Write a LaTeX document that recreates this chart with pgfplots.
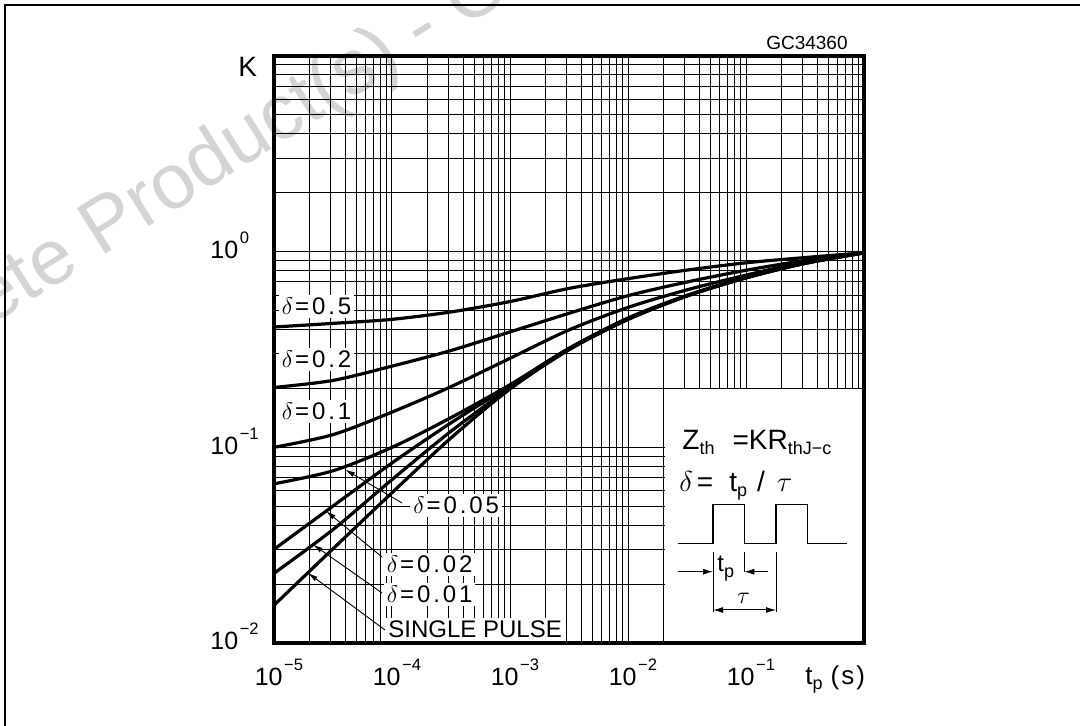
\documentclass[border=0pt]{standalone}
\usepackage{pgfplots}
\pgfplotsset{compat=1.18}
\usetikzlibrary{arrows.meta}
\usepackage{fontspec}
\setmainfont{Liberation Sans}

% 10 with a raised exponent, as the datasheet sets it
\newcommand\tlab[1]{10\kern0.8pt\raisebox{7.5pt}{\fontsize{8.3}{9}\selectfont #1}}
\newcommand\sub[1]{\raisebox{-2.5pt}{\fontsize{9}{10}\selectfont #1}}
\newcommand\dl[1]{\fontsize{12}{14}\selectfont$\delta$\kern1pt{\addfontfeature{LetterSpace=12}=#1}}

\begin{document}
\begin{tikzpicture}
\path[use as bounding box] (0,0) rectangle (540pt,363pt);

% watermark
\node[rotate=32.2, anchor=base west, text=black!17, inner sep=0pt,
  font=\fontsize{39}{40}\selectfont] at (-91.35pt,145.15pt)
  {Obsolete Product(s) - Obsolete Product(s)};

% outer frame (only top and left are inside the crop)
\draw[line width=0.8pt] (2.5pt,0pt) -- (2.5pt,360.5pt) -- (545pt,360.5pt);

\begin{axis}[
  at={(137pt,41.5pt)}, anchor=south west,
  scale only axis, width=295pt, height=293.5pt,
  xmode=log, ymode=log,
  xmin=1e-5, xmax=1, ymin=1e-2, ymax=10,
  xtick={1e-5,1e-4,1e-3,1e-2,1e-1},
  xticklabels={\tlab{−5},\tlab{−4},\tlab{−3},\tlab{−2},\tlab{−1}},
  ytick={1e-2,1e-1,1},
  yticklabels={\tlab{−2},\tlab{−1},\tlab{0}},
  minor xtick={2e-5,3e-5,4e-5,5e-5,6e-5,7e-5,8e-5,9e-5,
               2e-4,3e-4,4e-4,5e-4,6e-4,7e-4,8e-4,9e-4,
               2e-3,3e-3,4e-3,5e-3,6e-3,7e-3,8e-3,9e-3,
               2e-2,3e-2,4e-2,5e-2,6e-2,7e-2,8e-2,9e-2,
               0.2,0.3,0.4,0.5,0.6,0.7,0.8,0.9},
  minor ytick={0.02,0.03,0.04,0.05,0.06,0.07,0.08,0.09,
               0.2,0.3,0.4,0.5,0.6,0.7,0.8,0.9,
               2,3,4,5,6,7,8,9},
  grid=both,
  major grid style={black, line width=0.5pt},
  minor grid style={black, line width=0.5pt},
  tick style={draw=none},
  axis line style={line width=1.7pt},
  ticklabel style={font=\fontsize{12.5}{14}\selectfont, inner sep=0pt},
  xticklabel style={anchor=base, yshift=-21pt, xshift=2.5pt},
  yticklabel style={anchor=base west, xshift=-32pt, yshift=-3.5pt},
]
% delta = 0.5
\addplot[black, line width=1.6pt, smooth] coordinates {
  (1e-5,0.412) (3.162e-5,0.430) (1e-4,0.451) (3.162e-4,0.492) (1e-3,0.556)
  (3.162e-3,0.649) (1e-2,0.728) (3.162e-2,0.805) (1e-1,0.877) (3.162e-1,0.933) (1,0.986)};
% delta = 0.2
\addplot[black, line width=1.6pt, smooth] coordinates {
  (1e-5,0.2023) (3.162e-5,0.2198) (1e-4,0.260) (3.162e-4,0.3126) (1e-3,0.389)
  (3.162e-3,0.4842) (1e-2,0.5957) (3.162e-2,0.6998) (1e-1,0.8035) (3.162e-1,0.9016) (1,0.986)};
% delta = 0.1
\addplot[black, line width=1.6pt, smooth] coordinates {
  (1e-5,0.100) (3.162e-5,0.1161) (1e-4,0.1514) (3.162e-4,0.2042) (1e-3,0.2851)
  (3.162e-3,0.3981) (1e-2,0.5188) (3.162e-2,0.6383) (1e-1,0.7586) (3.162e-1,0.887) (1,0.986)};
% delta = 0.05
\addplot[black, line width=1.6pt, smooth] coordinates {
  (1e-5,0.0651) (3.162e-5,0.0759) (1e-4,0.100) (3.162e-4,0.1419) (1e-3,0.2089)
  (3.162e-3,0.3206) (1e-2,0.4581) (3.162e-2,0.5984) (1e-1,0.7396) (3.162e-1,0.875) (1,0.986)};
% delta = 0.02
\addplot[black, line width=1.6pt, smooth] coordinates {
  (1e-5,0.0301) (3.162e-5,0.0501) (1e-4,0.0832) (3.162e-4,0.1334) (1e-3,0.2065)
  (3.162e-3,0.320) (1e-2,0.454) (3.162e-2,0.596) (1e-1,0.736) (3.162e-1,0.873) (1,0.986)};
% delta = 0.01
\addplot[black, line width=1.6pt, smooth] coordinates {
  (1e-5,0.0227) (3.162e-5,0.0380) (1e-4,0.0684) (3.162e-4,0.1208) (1e-3,0.201)
  (3.162e-3,0.317) (1e-2,0.452) (3.162e-2,0.594) (1e-1,0.735) (3.162e-1,0.871) (1,0.986)};
% single pulse
\addplot[black, line width=1.6pt, smooth] coordinates {
  (1e-5,0.0156) (3.162e-5,0.0303) (1e-4,0.0586) (3.162e-4,0.1117) (1e-3,0.1986)
  (3.162e-3,0.315) (1e-2,0.450) (3.162e-2,0.593) (1e-1,0.735) (3.162e-1,0.871) (1,0.986)};
\end{axis}

% annotations, in pixel units of the 1080x726 picture
\begin{scope}[x=0.5pt, y=-0.5pt, shift={(0pt,363pt)}]
  % inset panel
  \fill[white] (664.5,389.5) rectangle (862,641);
  \draw[line width=0.6pt] (678.3,543.3) -- (713,543.3) -- (713,504.3) -- (744.3,504.3)
    -- (744.3,543.3) -- (776,543.3) -- (776,504.3) -- (807.3,504.3) -- (807.3,543.3) -- (847.3,543.3);
  \draw[line width=0.5pt] (713,551.7) -- (713,611.7) (744.3,551.7) -- (744.3,571.7) (776,551.7) -- (776,611.7);
  \draw[line width=0.5pt, -{Latex[length=5pt,width=3pt]}] (678.3,571.7) -- (713,571.7);
  \draw[line width=0.5pt, -{Latex[length=5pt,width=3pt]}] (768,571.7) -- (744.3,571.7);
  \draw[line width=0.5pt, {Latex[length=5pt,width=3pt]}-{Latex[length=5pt,width=3pt]}] (713,610) -- (776,610);
  \node[anchor=base west, inner sep=0pt, font=\fontsize{12}{14}\selectfont] at (717,571.7) {t\raisebox{-3pt}{\fontsize{9}{10}\selectfont p}};
  \node[font=\fontsize{12}{14}\selectfont] at (743.5,598) {$\tau$};
  \node[anchor=base west, inner sep=0pt, font=\fontsize{14}{16}\selectfont] at (682,450)
    {Z\sub{th}\hspace{9pt}=KR\sub{thJ−c}};
  \node[anchor=base west, inner sep=0pt, font=\fontsize{14}{16}\selectfont] at (679,492)
    {$\delta$\hspace{2pt}=\hspace{8pt}t\sub{p}\hspace{5pt}/\hspace{6pt}$\tau$};

  % curve labels
  \node[anchor=base west, fill=white, inner sep=1.5pt] at (278.5,314.5) {\dl{0.5}};
  \node[anchor=base west, fill=white, inner sep=1.5pt] at (278.5,367.7) {\dl{0.2}};
  \node[anchor=base west, fill=white, inner sep=1.5pt] at (278.5,419.3) {\dl{0.1}};
  \node[anchor=base west, fill=white, inner sep=1.5pt] at (410,514) {\dl{0.05}};
  \node[anchor=base west, fill=white, inner sep=1.5pt] at (383.5,572.3) {\dl{0.02}};
  \node[anchor=base west, fill=white, inner sep=1.5pt] at (383.5,602.7) {\dl{0.01}};
  \node[anchor=base west, fill=white, inner sep=1.5pt, font=\fontsize{12}{14}\selectfont] at (385,637.3) {SINGLE PULSE};

  % leaders
  \draw[line width=0.45pt, -{Latex[length=5pt,width=2.6pt]}] (402,503) -- (345,469.5);
  \draw[line width=0.45pt, -{Latex[length=5pt,width=2.6pt]}] (382,557) -- (326,511);
  \draw[line width=0.45pt, -{Latex[length=5pt,width=2.6pt]}] (382,593) -- (313,544.5);
  \draw[line width=0.45pt, -{Latex[length=5pt,width=2.6pt]}] (385,630) -- (308,573);

  % axis frame on top
  \draw[line width=1.7pt] (274,56) rectangle (864,643);

  % texts round the frame
  \node[anchor=base east, inner sep=0pt, font=\fontsize{9.5}{11}\selectfont] at (848,50) {GC34360};
  \node[anchor=base west, inner sep=0pt, font=\fontsize{14}{16}\selectfont] at (238,77) {K};
  \node[anchor=base west, inner sep=0pt, font=\fontsize{13}{15}\selectfont] at (805,685)
    {t\raisebox{-2.5pt}{\fontsize{9}{10}\selectfont p}\hspace{4pt}(\kern1pt s\kern1pt)};
\end{scope}
\end{tikzpicture}
\end{document}
